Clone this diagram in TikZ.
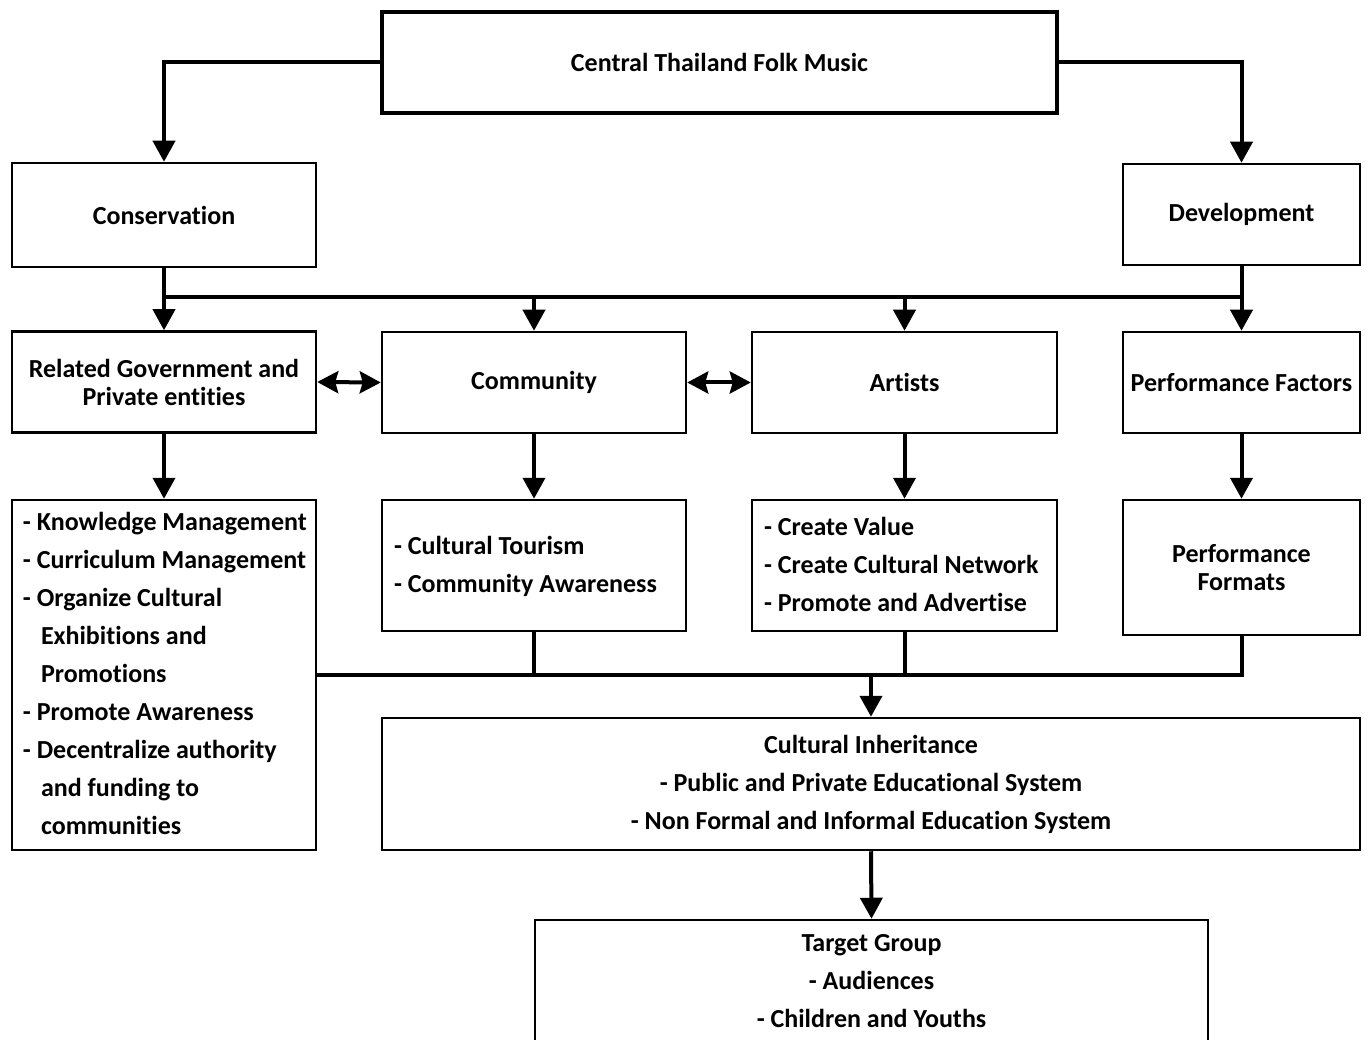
\documentclass[tikz,border=0pt]{standalone}
\usepackage{fontspec}
\setmainfont{Carlito}[Ligatures=NoCommon]
\usetikzlibrary{arrows.meta}
\newcommand{\ind}{\hspace*{18pt}}
\begin{document}
\begin{tikzpicture}[x=1pt,y=-1pt,
  box/.style={draw,line width=2.5pt,rectangle,inner sep=0pt,
    font=\bfseries\fontsize{26}{38}\selectfont},
  cbox/.style={box,align=center},
  conn/.style={line width=4pt},
  arr/.style={line width=4pt,-{Triangle[length=21pt,width=22pt]}},
  darr/.style={line width=4pt,{Stealth[length=21pt,width=22pt,inset=3pt]}-{Stealth[length=21pt,width=22pt,inset=3pt]}}]
\useasboundingbox (0,0) rectangle (1368,1040);
\fill[white] (0,0) rectangle (1368,1040);
% boxes
\node[cbox,line width=4pt,minimum width=675pt,minimum height=101pt] (top) at (719.5,62.5) {Central Thailand Folk Music};
\node[cbox,minimum width=304pt,minimum height=104pt] (cons) at (164,215) {Conservation};
\node[cbox,minimum width=237pt,minimum height=101pt] (dev) at (1241.5,214.5) {Development};
\node[cbox,minimum width=304pt,minimum height=101pt,font=\bfseries\fontsize{26}{28}\selectfont] (gov) at (164,382) {Related Government and\\Private entities};
\node[cbox,minimum width=304pt,minimum height=101pt] (com) at (534,382.5) {Community};
\node[cbox,minimum width=305pt,minimum height=101pt] (art) at (904.5,382.5) {Artists};
\node[cbox,minimum width=237pt,minimum height=101pt] (pf) at (1241.5,382.5) {Performance Factors};
\node[box,minimum width=304pt,minimum height=350pt] (govl) at (164,675)
 {\makebox[282pt][l]{\begin{tabular}{@{}l@{}}- Knowledge Management\\- Curriculum Management\\- Organize Cultural\\\ind Exhibitions and\\\ind Promotions\\- Promote Awareness\\- Decentralize authority\\\ind and funding to\\\ind communities\end{tabular}}};
\node[box,minimum width=304pt,minimum height=131pt] (coml) at (534,565.5)
 {\makebox[280pt][l]{\begin{tabular}{@{}l@{}}- Cultural Tourism\\- Community Awareness\end{tabular}}};
\node[box,minimum width=305pt,minimum height=131pt] (artl) at (904.5,565.5)
 {\makebox[281pt][l]{\begin{tabular}{@{}l@{}}- Create Value\\- Create Cultural Network\\- Promote and Advertise\end{tabular}}};
\node[cbox,minimum width=237pt,minimum height=135pt,font=\bfseries\fontsize{26}{28}\selectfont] (pff) at (1241.5,567.5) {Performance\\Formats};
\node[cbox,minimum width=978pt,minimum height=132pt] (ci) at (871,784)
 {Cultural Inheritance\\- Public and Private Educational System\\- Non Formal and Informal Education System};
\node[cbox,minimum width=673pt,minimum height=122pt] (tg) at (871.5,981)
 {Target Group\\- Audiences\\- Children and Youths};
% connectors
\coordinate (b1) at (164,297);
\coordinate (b2) at (1241.5,297);
\draw[arr] (top.west) -| (cons.north);
\draw[arr] (top.east) -| (dev.north);
\draw[conn] (cons.south) -- (b1) -- (b2) -- (dev.south);
\draw[arr] (gov.north |- b1) -- (gov.north);
\draw[arr] (com.north |- b1) -- (com.north);
\draw[arr] (art.north |- b1) -- (art.north);
\draw[arr] (pf.north |- b1) -- (pf.north);
\draw[darr] (gov.east) -- (com.west);
\draw[darr] (com.east) -- (art.west);
\draw[arr] (gov.south) -- (govl.north);
\draw[arr] (com.south) -- (coml.north);
\draw[arr] (art.south) -- (artl.north);
\draw[arr] (pf.south) -- (pff.north);
\draw[conn] (govl.east) -- (pff.south |- govl.east) -- (pff.south);
\draw[conn] (coml.south) -- (coml.south |- govl.east);
\draw[conn] (artl.south) -- (artl.south |- govl.east);
\draw[arr] (ci.north |- govl.east) -- (ci.north);
\draw[arr] (ci.south) -- (tg.north);
\end{tikzpicture}
\end{document}
